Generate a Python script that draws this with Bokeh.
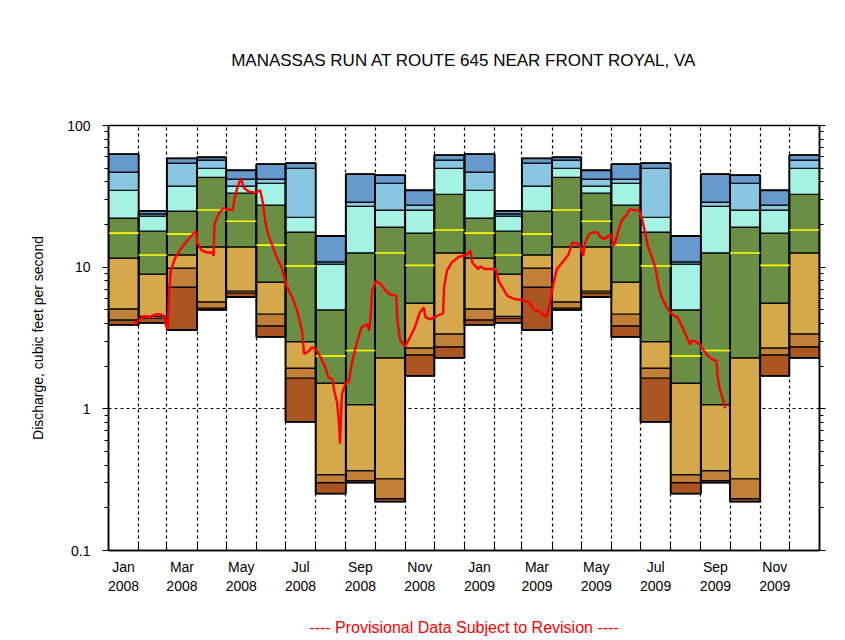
import datetime as dt
from bokeh.plotting import figure
from bokeh.models import (LogAxis, LinearAxis, FixedTicker, CustomJSTickFormatter,
                          Title, ColumnDataSource, Range1d, Grid)
from bokeh.embed import file_html
from bokeh.resources import INLINE

# ---------------- data ----------------
years = [2008, 2009]
month_names = ["Jan", "Feb", "Mar", "Apr", "May", "Jun",
               "Jul", "Aug", "Sep", "Oct", "Nov", "Dec"]

# monthly percentile statistics (cfs), Jan..Dec
q_min = [3.91, 4.04, 3.60, 4.99, 6.16, 3.22, 0.81, 0.252, 0.301, 0.221, 1.71, 2.29]
q_05 = [4.24, 4.36, 7.24, 5.15, 6.57, 3.85, 1.65, 0.301, 0.311, 0.232, 2.40, 2.74]
q_10 = [5.07, 4.50, 9.86, 5.68, 6.79, 4.67, 1.94, 0.343, 0.366, 0.321, 2.69, 3.38]
q_25 = [11.6, 8.94, 12.2, 13.9, 13.9, 7.85, 2.98, 1.52, 1.07, 2.29, 5.58, 12.6]
q_50 = [17.4, 12.2, 17.1, 25.3, 21.1, 14.3, 10.2, 2.36, 2.58, 12.6, 10.3, 18.3]
q_75 = [22.2, 18.0, 24.9, 43.1, 33.3, 27.4, 17.7, 4.99, 12.6, 19.2, 17.4, 32.7]
q_90 = [34.9, 22.9, 37.3, 49.9, 37.3, 39.1, 22.5, 10.5, 26.9, 25.3, 25.3, 49.9]
q_95 = [46.8, 23.8, 54.2, 56.9, 41.8, 41.8, 49.9, 10.9, 28.8, 39.1, 27.4, 56.9]
q_max = [62.7, 25.0, 58.7, 59.7, 48.3, 53.3, 54.2, 16.6, 45.3, 44.6, 34.9, 61.7]

# daily discharge
flow_dates = [
    "2008-01-27", "2008-02-01", "2008-02-06", "2008-02-10", "2008-02-12", "2008-02-15",
    "2008-02-20", "2008-02-25", "2008-02-28", "2008-02-29", "2008-03-02", "2008-03-03",
    "2008-03-05", "2008-03-09", "2008-03-14", "2008-03-19", "2008-03-26", "2008-03-31",
    "2008-04-01", "2008-04-06", "2008-04-11", "2008-04-17", "2008-04-18", "2008-04-19",
    "2008-04-23", "2008-04-28", "2008-05-03", "2008-05-08", "2008-05-09", "2008-05-12",
    "2008-05-16", "2008-05-19", "2008-05-24", "2008-05-31", "2008-06-05", "2008-06-08",
    "2008-06-10", "2008-06-13", "2008-06-17", "2008-06-22", "2008-06-27", "2008-07-02",
    "2008-07-08", "2008-07-13", "2008-07-18", "2008-07-20", "2008-07-25", "2008-07-28",
    "2008-08-01", "2008-08-06", "2008-08-11", "2008-08-14", "2008-08-18", "2008-08-20",
    "2008-08-23", "2008-08-25", "2008-08-26", "2008-08-27", "2008-08-28", "2008-09-01",
    "2008-09-04", "2008-09-07", "2008-09-12", "2008-09-17", "2008-09-23", "2008-09-25",
    "2008-09-27", "2008-09-28", "2008-10-02", "2008-10-07", "2008-10-12", "2008-10-17",
    "2008-10-23", "2008-10-24", "2008-10-27", "2008-11-01", "2008-11-06", "2008-11-11",
    "2008-11-16", "2008-11-20", "2008-11-22", "2008-11-27", "2008-12-04", "2008-12-10",
    "2008-12-11", "2008-12-14", "2008-12-19", "2008-12-26", "2009-01-03", "2009-01-07",
    "2009-01-09", "2009-01-12", "2009-01-15", "2009-01-17", "2009-01-22", "2009-02-02",
    "2009-02-05", "2009-02-09", "2009-02-14", "2009-02-21", "2009-03-01", "2009-03-08",
    "2009-03-13", "2009-03-20", "2009-03-26", "2009-03-29", "2009-04-03", "2009-04-06",
    "2009-04-13", "2009-04-18", "2009-04-22", "2009-04-27", "2009-04-30", "2009-05-03",
    "2009-05-05", "2009-05-09", "2009-05-14", "2009-05-18", "2009-05-21", "2009-05-25",
    "2009-05-29", "2009-06-01", "2009-06-03", "2009-06-05", "2009-06-09", "2009-06-12",
    "2009-06-16", "2009-06-20", "2009-06-24", "2009-06-30", "2009-07-03", "2009-07-06",
    "2009-07-09", "2009-07-13", "2009-07-16", "2009-07-20", "2009-07-23", "2009-07-28",
    "2009-08-02", "2009-08-08", "2009-08-13", "2009-08-17", "2009-08-21", "2009-08-23",
    "2009-08-27", "2009-08-31", "2009-09-04", "2009-09-09", "2009-09-13", "2009-09-17",
    "2009-09-18", "2009-09-20", "2009-09-23", "2009-09-26",
]
flow_values = [
    3.93, 4.19, 4.52, 4.49, 4.38, 4.54,
    4.67, 4.60, 4.42, 3.86, 3.66, 6.1,
    9.45, 11.4, 13.1, 14.5, 16.6, 18.0,
    14.9, 13.1, 12.7, 12.7, 12.0, 20.1,
    23.6, 26.1, 25.6, 25.3, 29.3, 35.5,
    42.5, 36.4, 34.2, 33.6, 34.9, 27.8,
    21.3, 17.1, 14.5, 11.7, 9.97, 7.4,
    6.1, 4.93, 3.56, 2.44, 2.55, 2.72,
    2.65, 2.31, 1.96, 1.67, 1.63, 1.35,
    1.11, 0.78, 0.567, 0.87, 1.27, 1.54,
    1.54, 2.07, 2.87, 3.76, 3.97, 3.56,
    4.93, 6.8, 8.0, 7.6, 6.8, 6.39,
    6.28, 4.19, 3.03, 2.75, 3.2, 3.76,
    4.79, 5.2, 4.42, 4.30, 4.54, 4.72,
    7.2, 9.45, 10.8, 11.8, 12.2, 13.1,
    10.8, 10.2, 9.7, 10.1, 9.7, 9.7,
    8.0, 7.2, 6.28, 5.96, 5.86, 5.64,
    5.06, 4.79, 4.47, 5.2, 8.0, 9.7,
    11.1, 12.3, 14.9, 14.7, 14.1, 12.0,
    14.9, 17.1, 17.7, 17.5, 16.2, 15.8,
    16.6, 16.9, 14.1, 14.9, 19.0, 21.5,
    23.1, 25.6, 25.3, 25.0, 21.3, 17.1,
    13.7, 11.7, 9.97, 7.2, 6.1, 5.2,
    4.67, 4.42, 3.76, 3.28, 2.84, 3.03,
    2.99, 2.84, 2.58, 2.34, 2.23, 2.19,
    1.76, 1.42, 1.21, 1.01,
]

y_ticks = [0.1, 1, 10, 100]
title_text = "MANASSAS RUN AT ROUTE 645 NEAR FRONT ROYAL, VA"
footer_text = "---- Provisional Data Subject to Revision ----"

# ---------------- styling ----------------
band_colors = ["#AB5522", "#C08038", "#D4A84B", "#6B8E45", "#A3F2E4", "#88C6E2", "#6699CC"]
FONT = "Liberation Sans"

EPOCH = dt.datetime(1970, 1, 1)
def ms(d):
    return (d - EPOCH).total_seconds() * 1000.0

starts = []
for y in years:
    for m in range(1, 13):
        starts.append(dt.datetime(y, m, 1))
ends = starts[1:] + [dt.datetime(years[-1] + 1, 1, 1)]

levels = [q_min, q_05, q_10, q_25, q_75, q_90, q_95, q_max]

p = figure(output_backend="svg", toolbar_location=None,
           x_axis_type=None, y_axis_type="log",
           frame_width=711, frame_height=425,
           min_border_left=108, min_border_right=10,
           min_border_top=125, min_border_bottom=70,
           x_range=Range1d(ms(starts[0]), ms(ends[-1])),
           y_range=Range1d(0.1, 100))
p.background_fill_color = "white"
p.border_fill_color = "white"
p.outline_line_color = "black"
p.outline_line_width = 1.5

# title (outermost) with an invisible spacer between it and the frame
p.title.text = title_text
p.title.align = "center"
p.title.text_font = FONT
p.title.text_font_size = "17px"
p.title.text_font_style = "normal"
p.title.text_color = "black"
p.title.standoff = 10
spacer = Title(text=" ", text_font_size="2px", standoff=47)
p.add_layout(spacer, "above")

for b in range(7):
    lo, hi = levels[b], levels[b + 1]
    src = ColumnDataSource(dict(
        left=starts, right=ends,
        bottom=[lo[i % 12] for i in range(24)],
        top=[hi[i % 12] for i in range(24)]))
    p.quad(left="left", right="right", bottom="bottom", top="top", source=src,
           fill_color=band_colors[b], line_color="black", line_width=1.2)

osrc = ColumnDataSource(dict(left=starts, right=ends,
                             bottom=[q_min[i % 12] for i in range(24)],
                             top=[q_max[i % 12] for i in range(24)]))
p.quad(left="left", right="right", bottom="bottom", top="top", source=osrc,
       fill_color=None, line_color="black", line_width=1.8)

msrc = ColumnDataSource(dict(x0=starts, x1=ends, y=[q_50[i % 12] for i in range(24)]))
p.segment(x0="x0", y0="y", x1="x1", y1="y", source=msrc, line_color="#FFFF00", line_width=1.6)

fsrc = ColumnDataSource(dict(x=[dt.datetime.strptime(s, "%Y-%m-%d") for s in flow_dates],
                             y=flow_values))
p.line("x", "y", source=fsrc, line_color="#FF0000", line_width=2.4)

minor_y = [m * 10.0 ** e for e in (-1, 0, 1) for m in range(2, 10)]
ya = p.yaxis[0]
ya.ticker = FixedTicker(ticks=y_ticks, minor_ticks=minor_y)
ya.formatter = CustomJSTickFormatter(code="return tick < 1 ? tick.toFixed(1) : tick.toFixed(0);")
ya.axis_label = "Discharge, cubic feet per second"
ya.axis_label_text_font = FONT
ya.axis_label_text_font_size = "14px"
ya.axis_label_text_font_style = "normal"
ya.axis_label_text_color = "black"
ya.axis_label_standoff = 18
ya.major_label_text_font = FONT
ya.major_label_text_font_size = "14px"
ya.major_label_text_color = "black"
ya.major_label_standoff = 12
ya.major_tick_out = 6
ya.major_tick_in = 0
ya.minor_tick_out = 4
ya.minor_tick_in = 0
ya.axis_line_width = 1.5

ra = LogAxis(ticker=FixedTicker(ticks=y_ticks, minor_ticks=minor_y),
             formatter=CustomJSTickFormatter(code="return '';"))
ra.major_tick_out = 6
ra.major_tick_in = 0
ra.minor_tick_out = 4
ra.minor_tick_in = 0
ra.major_label_standoff = 0
ra.axis_line_width = 1.5
p.add_layout(ra, "right")

mids = [(ms(s) + ms(e)) / 2 for s, e in zip(starts, ends)]
label_ticks = mids[0::2]
bounds = [ms(s) for s in starts] + [ms(ends[-1])]
xa = LinearAxis(ticker=FixedTicker(ticks=label_ticks, minor_ticks=bounds),
                formatter=CustomJSTickFormatter(code="""
const n = ["Jan","Feb","Mar","Apr","May","Jun","Jul","Aug","Sep","Oct","Nov","Dec"];
const d = new Date(tick);
return n[d.getUTCMonth()] + "\\n" + d.getUTCFullYear();
"""))
xa.major_tick_in = 0
xa.major_tick_out = 0
xa.minor_tick_in = 8
xa.minor_tick_out = 0
xa.major_label_text_font = FONT
xa.major_label_text_font_size = "14px"
xa.major_label_text_color = "black"
xa.major_label_standoff = 8
xa.axis_line_width = 1.5
# footer shown as the bottom axis label
xa.axis_label = footer_text
xa.axis_label_text_font = FONT
xa.axis_label_text_font_size = "16px"
xa.axis_label_text_font_style = "normal"
xa.axis_label_text_color = "#FF0000"
xa.axis_label_standoff = 22
p.add_layout(xa, "below")

p.xgrid.visible = False
p.ygrid.visible = False
gx = Grid(dimension=0, ticker=FixedTicker(ticks=bounds), grid_line_color="black",
          grid_line_dash="3 3", grid_line_width=1.2)
gy = Grid(dimension=1, ticker=FixedTicker(ticks=y_ticks), grid_line_color="black",
          grid_line_dash="3 3", grid_line_width=1.2)
p.add_layout(gx)
p.add_layout(gy)

open("out.html", "w").write(file_html(p, INLINE))
